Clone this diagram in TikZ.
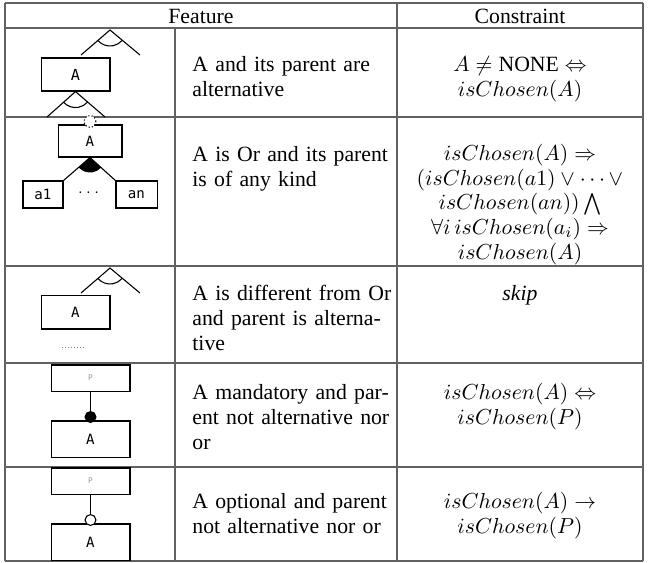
\documentclass[tikz,border=0pt]{standalone}
\usepackage{amsmath,amssymb}
\usepackage{fontspec}
\setmainfont{Liberation Serif}
\newfontfamily\diafont{DejaVu Sans Mono}
\usepackage{tikz}
\usetikzlibrary{positioning,calc}
\definecolor{rulegray}{gray}{0.38}
\newlength\colwd
\setlength\colwd{87pt}
\newcommand\jline[1]{\makebox[\colwd][s]{#1}}
\newcommand\altarc[1]{\draw[edge] ($(#1)+(221:16)$) arc[start angle=221, end angle=319, radius=16];}
\tikzset{
  featbox/.style={draw=black, line width=0.5pt, inner sep=0pt,
                  font=\diafont\fontsize{6.5}{7}\selectfont},
  parbox/.style={featbox, text=gray!80, font=\diafont\fontsize{3.6}{4}\selectfont},
  edge/.style={draw=black, line width=0.5pt},
  mandcirc/.style={circle, draw=black, fill=black, line width=0.5pt,
                   minimum size=5pt, inner sep=0pt},
  optcirc/.style={mandcirc, fill=white},
  celltext/.style={anchor=north west, inner sep=0pt, text width=\colwd,
                   align=left, font=\fontsize{10}{11.5}\selectfont},
  cellmath/.style={anchor=north, inner sep=0pt, align=center,
                   font=\fontsize{10}{11.3}\selectfont},
  tabrule/.style={draw=rulegray, line width=0.5pt}
}
\begin{document}
\begin{tikzpicture}[x=0.46pt, y=0.46pt]
  \useasboundingbox (0,0) rectangle (649,-562);

  % table rules
  \foreach \y in {3,28,117,266,363,467,561}
    \draw[tabrule] (5,-\y) -- (643,-\y);
  \foreach \x in {5,397,643}
    \draw[tabrule] (\x,-3) -- (\x,-561);
  \draw[tabrule] (175,-28) -- (175,-561);

  \node (feat) at (201,-16) {Feature};
  \node (cons) at (520,-16) {Constraint};

  % row 1: alternative
  \node[featbox, minimum width=31.7pt, minimum height=15.2pt, font=\diafont\fontsize{7}{8}\selectfont]
    (A1) at (75.5,-74.5) {A};
  \coordinate (alt1) at (110,-30);
  \coordinate (alt1l) at (81,-55);
  \coordinate (alt1r) at (140,-55);
  \draw[edge] (alt1l) -- (alt1) -- (alt1r);
  \altarc{alt1}
  \coordinate (low1l) at (47,-117);
  \coordinate (low1r) at (105,-117);
  \draw[edge] (low1l) -- (A1.south) -- (low1r);
  \altarc{A1.south}

  \node[celltext] (t1) at (192,-56)
    {\jline{A and its parent are}\\alternative};
  \node[cellmath] (c1) at (520,-56)
    {$A \neq \mbox{NONE} \Leftrightarrow$\\$isChosen(A)$};

  % row 2: or group
  \node[featbox, minimum width=29.4pt, minimum height=14.7pt] (A2) at (90,-141) {A};
  \node[featbox, minimum width=18.4pt, minimum height=12.4pt] (a1) at (43,-194.5) {a1};
  \node[featbox, minimum width=18.9pt, minimum height=12.4pt] (an) at (136.5,-194.5) {an};
  \node[optcirc, densely dotted, minimum size=5.4pt] (orA) at ($(A2.north)+(0,3)$) {};
  \fill (A2.south) -- ++(221:15) arc[start angle=221, end angle=318, radius=15] -- cycle;
  \draw[edge] (a1.north east) -- (A2.south) -- (an.north west);
  \node[font=\fontsize{7}{8}\selectfont] (dots) at (90,-193) {$\cdots$};

  \node[celltext] (t2) at (192,-146)
    {\jline{A is Or and its parent}\\is of any kind};
  \node[cellmath] (c2) at (520,-144)
    {$isChosen(A) \Rightarrow$\\
     $(isChosen(a1) \vee \cdots \vee$\\
     $isChosen(an)) \bigwedge$\\
     $\forall i\, isChosen(a_i) \Rightarrow$\\
     $isChosen(A)$};

  % row 3: not or, parent alternative
  \node[featbox, minimum width=31.7pt, minimum height=15.6pt] (A3) at (75.5,-312) {A};
  \coordinate (alt3) at (110,-268);
  \coordinate (alt3l) at (81,-293);
  \coordinate (alt3r) at (140,-293);
  \draw[edge] (alt3l) -- (alt3) -- (alt3r);
  \altarc{alt3}
  \draw[gray, densely dotted, line width=0.4pt] (62,-347) -- (86,-347);

  \node[celltext] (t3) at (192,-285)
    {\jline{A is different from Or}\\\jline{and parent is alterna-}\\tive};
  \node[cellmath] (c3) at (520,-285) {\textit{skip}};

  % row 4: mandatory
  \node[parbox, minimum width=36.3pt, minimum height=12pt] (P4) at (90.5,-378) {P};
  \node[featbox, minimum width=36.3pt, minimum height=16.6pt] (A4) at (90.5,-439) {A};
  \node[mandcirc] (mand) at (90.5,-417) {};
  \draw[edge] (P4.south) -- (mand);

  \node[celltext] (t4) at (192,-384)
    {\jline{A mandatory and par-}\\\jline{ent not alternative nor}\\or};
  \node[cellmath] (c4) at (520,-383)
    {$isChosen(A) \Leftrightarrow$\\$isChosen(P)$};

  % row 5: optional
  \node[parbox, minimum width=36.3pt, minimum height=12pt] (P5) at (90.5,-481) {P};
  \node[featbox, minimum width=36.3pt, minimum height=16.6pt] (A5) at (90.5,-542) {A};
  \node[optcirc] (opt) at (90.5,-520) {};
  \draw[edge] (P5.south) -- (opt);

  \node[celltext] (t5) at (192,-493)
    {\jline{A optional and parent}\\not alternative nor or};
  \node[cellmath] (c5) at (520,-492)
    {$isChosen(A) \rightarrow$\\$isChosen(P)$};
\end{tikzpicture}
\end{document}
